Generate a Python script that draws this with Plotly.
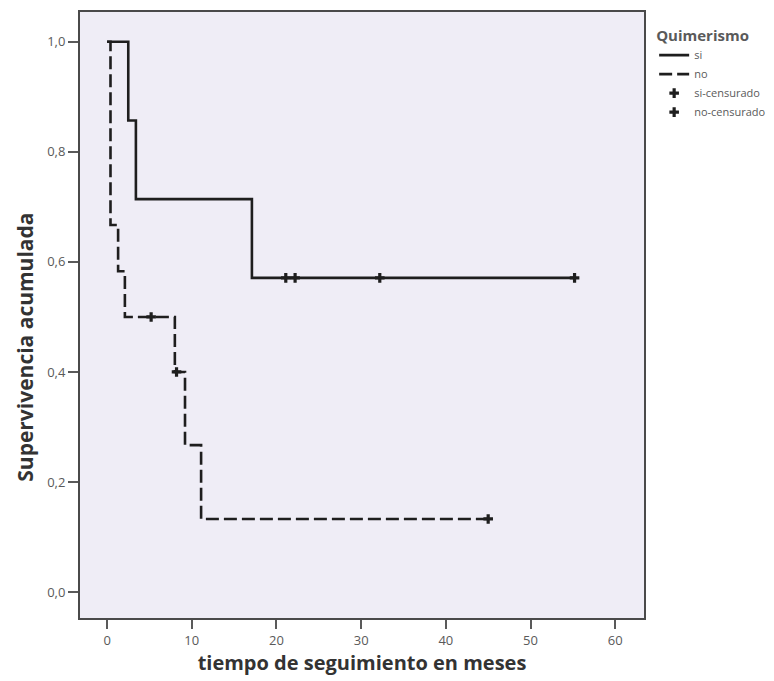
import plotly.graph_objects as go

# Kaplan-Meier steps
si_time = [0, 2.5, 3.4, 17.1, 55.2]
si_surv = [1.0, 0.857, 0.714, 0.571, 0.571]
no_time = [0, 0.4, 1.3, 2.1, 8.0, 9.2, 11.1, 45.0]
no_surv = [1.0, 0.667, 0.583, 0.5, 0.4, 0.267, 0.133, 0.133]

si_cens_time = [21.1, 22.2, 32.2, 55.2]
si_cens_surv = [0.571, 0.571, 0.571, 0.571]
no_cens_time = [5.2, 8.2, 45.0]
no_cens_surv = [0.5, 0.4, 0.133]

x_ticks = [0, 10, 20, 30, 40, 50, 60]
y_ticks = [0.0, 0.2, 0.4, 0.6, 0.8, 1.0]

LINE = "#1e1e1e"
GRAY = "#5a5a5a"
FONT = "Open Sans"

fig = go.Figure()
fig.add_trace(go.Scatter(x=si_time, y=si_surv, mode="lines", line_shape="hv",
                         line=dict(color=LINE, width=2.6), name="si"))
fig.add_trace(go.Scatter(x=no_time, y=no_surv, mode="lines", line_shape="hv",
                         line=dict(color=LINE, width=2.6, dash="13px,5px"), name="no"))
fig.add_trace(go.Scatter(x=si_cens_time, y=si_cens_surv, mode="markers",
                         marker=dict(symbol="cross", size=8, color=LINE),
                         name="si-censurado"))
fig.add_trace(go.Scatter(x=no_cens_time, y=no_cens_surv, mode="markers",
                         marker=dict(symbol="cross", size=8, color=LINE),
                         name="no-censurado"))

fig.update_layout(
    width=774, height=681,
    margin=dict(l=72, r=138, t=2, b=71),
    paper_bgcolor="white",
    plot_bgcolor="#efedf6",
    separators=",.",
    font=dict(family=FONT, color=GRAY, size=13),
    showlegend=True,
    legend=dict(
        title=dict(text="<b>Quimerismo</b>", font=dict(family=FONT, size=15, color=GRAY)),
        x=1.018, y=0.985, xanchor="left", yanchor="top",
        font=dict(family=FONT, size=11, color=GRAY),
        bgcolor="rgba(0,0,0,0)", itemwidth=30, tracegroupgap=0,
    ),
    xaxis=dict(
        range=[-3.2, 63.4], tickvals=x_ticks, ticks="outside", ticklen=9,
        tickwidth=2, tickcolor=GRAY, showgrid=False, zeroline=False,
        showline=True, linecolor="#4a4a4a", linewidth=2, mirror=True,
        tickfont=dict(size=13, color=GRAY),
        title=dict(text="<b>tiempo de seguimiento en meses</b>",
                   font=dict(family=FONT, size=20, color="#333333"), standoff=6),
    ),
    yaxis=dict(
        range=[-0.047, 1.054], tickvals=y_ticks, tickformat=".1f", ticks="outside",
        ticklen=10, tickwidth=2, tickcolor=GRAY, showgrid=False, zeroline=False,
        showline=True, linecolor="#4a4a4a", linewidth=2, mirror=True,
        tickfont=dict(size=13, color=GRAY),
    ),
    annotations=[dict(
        text="<b>Supervivencia acumulada</b>", textangle=-90,
        xref="paper", yref="paper", x=-0.0975, y=0.446,
        xanchor="center", yanchor="middle", showarrow=False,
        font=dict(family=FONT, size=21, color="#333333"),
    )],
)

fig.write_html("out.html")
